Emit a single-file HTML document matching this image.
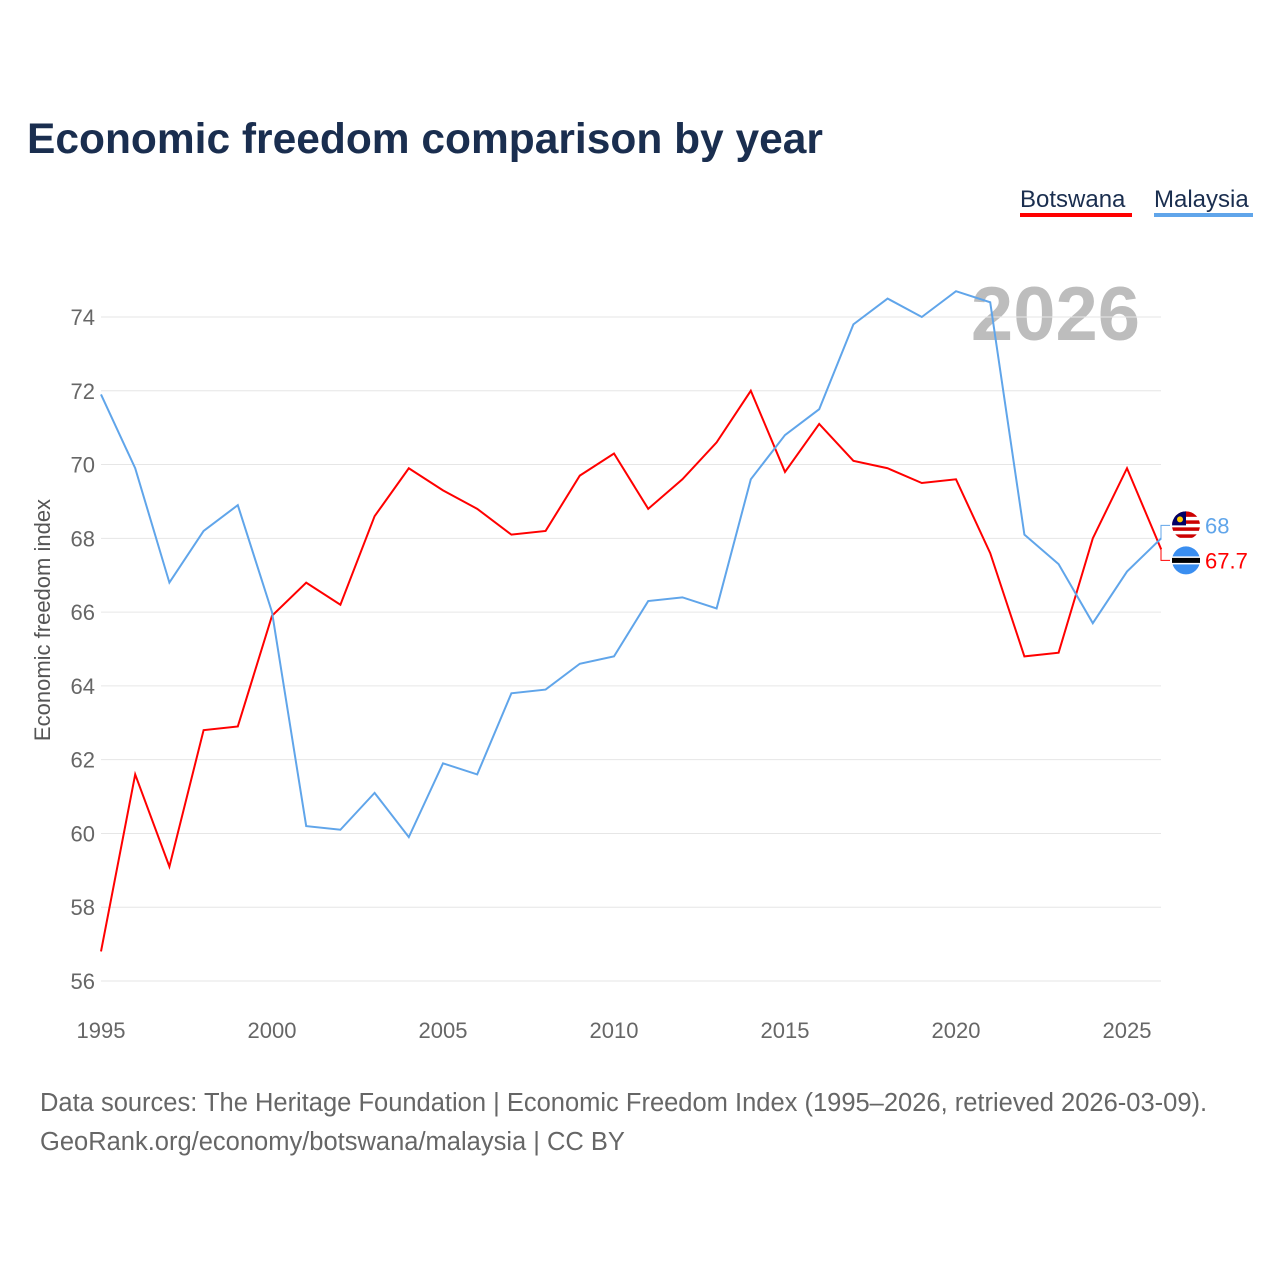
<!DOCTYPE html>
<html><head><meta charset="utf-8"><style>
body{margin:0;background:#fff;width:1280px;height:1280px;overflow:hidden;font-family:"Liberation Sans",sans-serif}
</style></head><body>
<svg id="c" width="1280" height="1280" xmlns="http://www.w3.org/2000/svg">
<text x="27" y="153" font-size="42.5" font-weight="bold" fill="#1a2e4f">Economic freedom comparison by year</text>
<g><text x="1020" y="207" font-size="24" fill="#1a2e4f">Botswana</text><rect x="1020" y="213" width="112" height="4" fill="#ff0000"/></g>
<g><text x="1154" y="207" font-size="24" fill="#1a2e4f">Malaysia</text><rect x="1154" y="213" width="99" height="4" fill="#60a5ea"/></g>
<text x="1140" y="340" font-size="76" font-weight="bold" fill="#bdbdbd" text-anchor="end">2026</text>
<text transform="translate(50,620) rotate(-90)" font-size="22" fill="#555" text-anchor="middle">Economic freedom index</text>
<g id="grid"></g><g id="lines"></g>
<text x="40" y="1111" font-size="25.5" fill="#666">Data sources: The Heritage Foundation | Economic Freedom Index (1995–2026, retrieved 2026-03-09).</text>
<text x="40" y="1150" font-size="25.5" fill="#666">GeoRank.org/economy/botswana/malaysia | CC BY</text>
</svg>
<script>
const years=[1995,1996,1997,1998,1999,2000,2001,2002,2003,2004,2005,2006,2007,2008,2009,2010,2011,2012,2013,2014,2015,2016,2017,2018,2019,2020,2021,2022,2023,2024,2025,2026];
const botswana=[56.8,61.6,59.1,62.8,62.9,65.9,66.8,66.2,68.6,69.9,69.3,68.8,68.1,68.2,69.7,70.3,68.8,69.6,70.6,72.0,69.8,71.1,70.1,69.9,69.5,69.6,67.6,64.8,64.9,68.0,69.9,67.7];
const malaysia=[71.9,69.9,66.8,68.2,68.9,66.0,60.2,60.1,61.1,59.9,61.9,61.6,63.8,63.9,64.6,64.8,66.3,66.4,66.1,69.6,70.8,71.5,73.8,74.5,74.0,74.7,74.4,68.1,67.3,65.7,67.1,68.0];
const yTicks=[56,58,60,62,64,66,68,70,72,74];
const xTicks=[1995,2000,2005,2010,2015,2020,2025];
const NS="http://www.w3.org/2000/svg";
const x=v=>101+(v-1995)*(1127-101)/30;
const y=v=>981-(v-56)*(664/18);
function mk(t,a,p){const e=document.createElementNS(NS,t);for(const k in a)e.setAttribute(k,a[k]);p.appendChild(e);return e;}
const g=document.getElementById('grid'),L=document.getElementById('lines');
yTicks.forEach(v=>{
 const l=mk('line',{x1:101,x2:1161,y1:y(v),y2:y(v),stroke:'#e6e6e6','stroke-width':1},g);
 
 
 const t=mk('text',{x:95,y:y(v)+8,'font-size':22,fill:'#666','text-anchor':'end'},g);t.textContent=v;
 
 
});
xTicks.forEach(v=>{
 const t=mk('text',{x:x(v),y:1038,'font-size':22,fill:'#666','text-anchor':'middle'},g);t.textContent=v;
 
 
});
function line(d,c,n){
 const p=mk('polyline',{points:d.map((v,i)=>x(years[i])+','+y(v)).join(' '),fill:'none',stroke:c,'stroke-width':2},L);
 
 
}
line(botswana,'#ff0000','botswana-line');
line(malaysia,'#60a5ea','malaysia-line');
const lb=botswana[botswana.length-1],lm=malaysia[malaysia.length-1];
const yb=y(lb)+11,ym=y(lm)-13;
mk('polyline',{points:`1161,${y(lm)} 1161,${ym} 1170,${ym}`,fill:'none',stroke:'#60a5ea'},L);
mk('polyline',{points:`1161,${y(lb)} 1161,${yb} 1170,${yb}`,fill:'none',stroke:'#ff0000'},L);
const fm=mk('g',{},L);


mk('circle',{cx:1186,cy:ym,r:14,fill:'#cc0001'},fm);
for(let i=0;i<4;i++)mk('rect',{x:1172,y:ym-12+i*7+3.5,width:28,height:3.5,fill:'#fff'},fm);
mk('path',{d:`M1172 ${ym} A14 14 0 0 1 1186 ${ym-14} L1186 ${ym} Z`,fill:'#010066'},fm);
mk('circle',{cx:1180,cy:ym-6,r:3,fill:'#fc0'},fm);
const fb=mk('g',{},L);


mk('circle',{cx:1186,cy:yb,r:14,fill:'#3a8ef0'},fb);
mk('rect',{x:1172,y:yb-4,width:28,height:8,fill:'#fff'},fb);
mk('rect',{x:1172,y:yb-2.5,width:28,height:5,fill:'#000'},fb);
const tm=mk('text',{x:1205,y:ym+8,'font-size':22,fill:'#60a5ea'},L);tm.textContent=lm;


const tb=mk('text',{x:1205,y:yb+8,'font-size':22,fill:'#ff0000'},L);tb.textContent=lb;


</script>
</body></html>
